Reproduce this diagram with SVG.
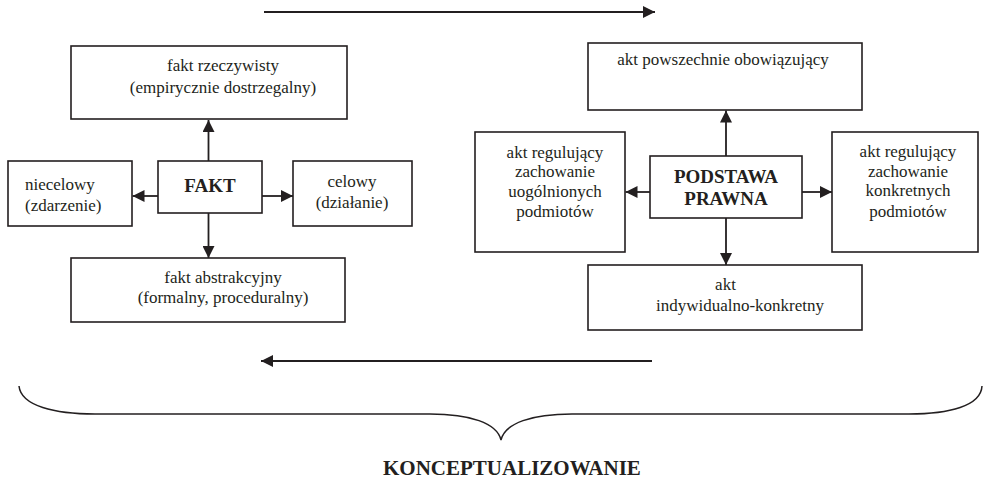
<svg xmlns="http://www.w3.org/2000/svg" width="986" height="479" viewBox="0 0 986 479">
<defs>
<style>
.box{fill:#fff;stroke:#231f20;stroke-width:1.6}
.t{font-family:"Liberation Serif","Times New Roman",serif;font-size:17px;fill:#231f20}
.c{text-anchor:middle}
.b{font-family:"Liberation Serif","Times New Roman",serif;font-weight:bold;font-size:19px;fill:#231f20;text-anchor:middle}
.ln{fill:none;stroke:#231f20;stroke-width:1.8}
.br{fill:none;stroke:#231f20;stroke-width:1.5}
</style>
<marker id="ah" viewBox="0 0 12 12" refX="12" refY="6" markerWidth="12" markerHeight="12" markerUnits="userSpaceOnUse" orient="auto">
<path d="M0,0 L12,6 L0,12 z" fill="#231f20"/>
</marker>
</defs>
<rect width="986" height="479" fill="#fff"/>

<g id="connectors">
<line class="ln" x1="264" y1="12" x2="655" y2="12" marker-end="url(#ah)"/>
<line class="ln" x1="652" y1="361" x2="261" y2="361" marker-end="url(#ah)"/>
<line class="ln" x1="208.5" y1="161" x2="208.5" y2="120" marker-end="url(#ah)"/>
<line class="ln" x1="158" y1="196" x2="132.5" y2="196" marker-end="url(#ah)"/>
<line class="ln" x1="262" y1="196" x2="293" y2="196" marker-end="url(#ah)"/>
<line class="ln" x1="208.5" y1="213" x2="208.5" y2="258" marker-end="url(#ah)"/>
<line class="ln" x1="726" y1="156" x2="726" y2="110.5" marker-end="url(#ah)"/>
<line class="ln" x1="650" y1="192" x2="625.5" y2="192" marker-end="url(#ah)"/>
<line class="ln" x1="802" y1="192" x2="832" y2="192" marker-end="url(#ah)"/>
<line class="ln" x1="726" y1="218" x2="726" y2="265" marker-end="url(#ah)"/>
</g>

<g id="fakt-rzeczywisty">
<rect class="box" x="71" y="46" width="276" height="73"/>
<text class="t c" x="223" y="71">fakt rzeczywisty</text>
<text class="t c" x="223" y="93">(empirycznie dostrzegalny)</text>
</g>
<g id="niecelowy">
<rect class="box" x="8" y="161" width="124" height="65"/>
<text class="t" x="25" y="190">niecelowy</text>
<text class="t" x="25" y="211">(zdarzenie)</text>
</g>
<g id="fakt">
<rect class="box" x="158" y="161" width="104" height="52"/>
<text class="b" x="210" y="192">FAKT</text>
</g>
<g id="celowy">
<rect class="box" x="293" y="161" width="119" height="65"/>
<text class="t c" x="352" y="187">celowy</text>
<text class="t c" x="352" y="208">(działanie)</text>
</g>
<g id="fakt-abstrakcyjny">
<rect class="box" x="71" y="258" width="274" height="64"/>
<text class="t c" x="223" y="283">fakt abstrakcyjny</text>
<text class="t c" x="223" y="303">(formalny, proceduralny)</text>
</g>

<g id="akt-powszechnie">
<rect class="box" x="588" y="43" width="274" height="67"/>
<text class="t c" x="723" y="65">akt powszechnie obowiązujący</text>
</g>
<g id="akt-uogolnionych">
<rect class="box" x="475" y="132" width="150" height="120"/>
<text class="t c" x="555" y="158">akt regulujący</text>
<text class="t c" x="555" y="177">zachowanie</text>
<text class="t c" x="555" y="197">uogólnionych</text>
<text class="t c" x="555" y="217">podmiotów</text>
</g>
<g id="podstawa-prawna">
<rect class="box" x="650" y="156" width="152" height="62"/>
<text class="b" x="726" y="183">PODSTAWA</text>
<text class="b" x="726" y="205">PRAWNA</text>
</g>
<g id="akt-konkretnych">
<rect class="box" x="832" y="132" width="146" height="120"/>
<text class="t c" x="908" y="157">akt regulujący</text>
<text class="t c" x="908" y="177">zachowanie</text>
<text class="t c" x="908" y="196">konkretnych</text>
<text class="t c" x="908" y="217">podmiotów</text>
</g>
<g id="akt-indywidualny">
<rect class="box" x="588" y="265" width="274" height="65"/>
<text class="t c" x="725.5" y="290">akt</text>
<text class="t c" x="740" y="311">indywidualno-konkretny</text>
</g>

<g id="konceptualizowanie">
<path class="br" d="M19,386 C21,406 55,414 95,414 L430,414 C470,414 497,423 501,440 C505,423 532,414 572,414 L909,414 C949,414 981,406 982,386"/>
<text x="383" y="475" style="font-family:'Liberation Serif','Times New Roman',serif;font-weight:bold;font-size:21px;fill:#231f20">KONCEPTUALIZOWANIE</text>
</g>
</svg>
